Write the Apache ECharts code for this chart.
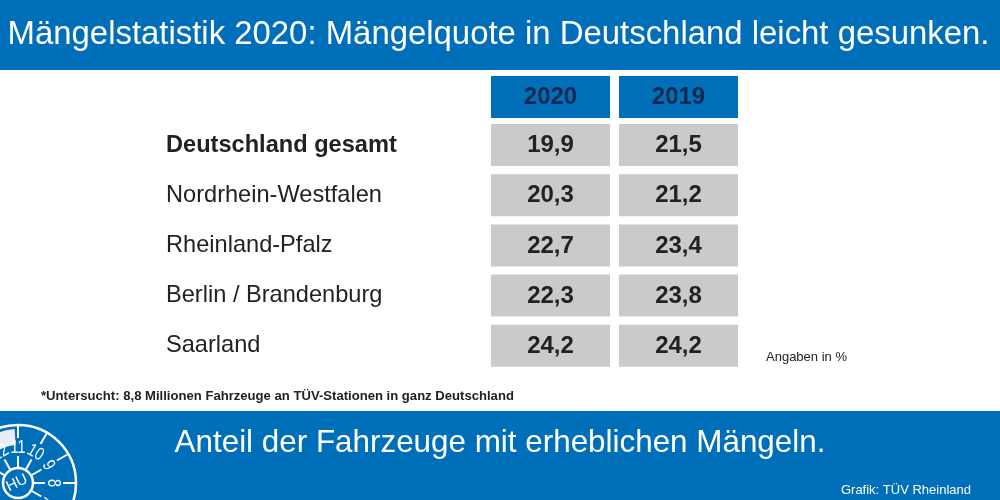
<!DOCTYPE html>
<html>
<head>
<meta charset="utf-8">
<style>
  html, body { margin: 0; padding: 0; background: #fff; }
  #chart { width: 1000px; height: 500px; }
</style>
<script src="https://cdn.jsdelivr.net/npm/echarts@6/dist/echarts.min.js"></script>
</head>
<body>
<div id="chart"></div>
<script>
var years = ['2020', '2019'];
var regions = ['Deutschland gesamt', 'Nordrhein-Westfalen', 'Rheinland-Pfalz', 'Berlin / Brandenburg', 'Saarland'];
var values2020 = [19.9, 20.3, 22.7, 22.3, 24.2];
var values2019 = [21.5, 21.2, 23.4, 23.8, 24.2];

var blue = '#006fb9';
var font = '"Liberation Sans", Arial, sans-serif';

// Kopfzeile + Regionen, Kategorie-Achse laeuft von oben nach unten
var rows = [''].concat(regions);

var cells = [];
years.forEach(function (y, c) {
  cells.push([c, 0, y]);
});
regions.forEach(function (r, i) {
  cells.push([0, i + 1, values2020[i].toFixed(1).replace('.', ',')]);
  cells.push([1, i + 1, values2019[i].toFixed(1).replace('.', ',')]);
});

function renderCell(params, api) {
  var p = api.coord([api.value(0), api.value(1)]);
  var s = api.size([1, 1]);
  var isHead = api.value(1) === 0;
  var w = s[0] - 9, h = 42;
  // Kopfzeile sitzt etwas naeher an der ersten Zeile
  var cy = isHead ? p[1] + 2.2 : p[1];
  return {
    type: 'group',
    children: [{
      type: 'rect',
      shape: { x: p[0] - w / 2, y: cy - h / 2, width: w, height: h },
      style: { fill: isHead ? blue : '#cacaca' }
    }, {
      type: 'text',
      style: {
        x: p[0], y: cy + 0.5,
        text: cells[params.dataIndex][2],
        align: 'center', verticalAlign: 'middle',
        font: 'bold 24px ' + font,
        fill: isHead ? '#14284f' : '#222222'
      }
    }]
  };
}

// HU-Plakette unten links, Monate wie auf dem Zifferblatt alle 30 Grad
var badgeX = 18, badgeY = 483;
var badge = [
  { type: 'circle', shape: { cx: badgeX, cy: badgeY, r: 58 }, style: { fill: 'none', stroke: '#fff', lineWidth: 2.5 } },
  { type: 'sector', shape: { cx: badgeX, cy: badgeY, r: 54, r0: 38, startAngle: -Math.PI * 0.95, endAngle: -Math.PI * 0.52 }, style: { fill: '#e8eef4' } },
  { type: 'circle', shape: { cx: badgeX, cy: badgeY, r: 15 }, style: { fill: 'none', stroke: '#fff', lineWidth: 2.5 } }
];
['8', '9', '10', '11', '12', '1', '7'].forEach(function (m, i) {
  var a = (i < 6 ? -i : 1) * Math.PI / 6;
  var c = Math.cos(a), sn = Math.sin(a);
  badge.push({
    type: 'line',
    shape: { x1: badgeX + 16 * c, y1: badgeY + 16 * sn, x2: badgeX + 27 * c, y2: badgeY + 27 * sn },
    style: { stroke: '#fff', lineWidth: 2 }
  });
  badge.push({
    type: 'line',
    shape: { x1: badgeX + 45 * c, y1: badgeY + 45 * sn, x2: badgeX + 57 * c, y2: badgeY + 57 * sn },
    style: { stroke: '#fff', lineWidth: 2 }
  });
  badge.push({
    type: 'text',
    x: badgeX + 35 * c, y: badgeY + 35 * sn,
    rotation: -(a + Math.PI / 2), scaleX: 0.8,
    style: { text: m, align: 'center', verticalAlign: 'middle', font: '18px ' + font, fill: '#fff' }
  });
});
badge.push({
  type: 'text', x: badgeX - 1, y: badgeY, rotation: 0.45,
  style: { text: 'HU', align: 'center', verticalAlign: 'middle', font: '15px ' + font, fill: '#fff' }
});

var chart = echarts.init(document.getElementById('chart'), null, { renderer: 'canvas' });
chart.setOption({
  animation: false,
  backgroundColor: '#fff',
  grid: { left: 486.5, top: 69.7, width: 256, height: 301.2 },
  xAxis: {
    type: 'category', data: years,
    axisLine: { show: false }, axisTick: { show: false }, axisLabel: { show: false }, splitLine: { show: false }
  },
  yAxis: {
    type: 'category', data: rows, inverse: true,
    axisLine: { show: false }, axisTick: { show: false }, splitLine: { show: false },
    axisLabel: {
      margin: 320.5, align: 'left', fontFamily: font, fontSize: 23.6, color: '#222222',
      formatter: function (v, i) {
        return i === 1 ? '{b|' + v + '}' : v;
      },
      rich: { b: { fontFamily: font, fontSize: 23.6, fontWeight: 'bold', color: '#222222' } }
    }
  },
  series: [{
    type: 'custom',
    renderItem: renderCell,
    encode: { x: 0, y: 1 },
    data: cells.map(function (d) { return [d[0], d[1]]; })
  }],
  graphic: [
    { type: 'rect', shape: { x: 0, y: 0, width: 1000, height: 70 }, style: { fill: blue } },
    { type: 'rect', shape: { x: 0, y: 411, width: 1000, height: 89 }, style: { fill: blue } },
    { type: 'text', x: 498.5, y: 34.5, style: { text: 'Mängelstatistik 2020: Mängelquote in Deutschland leicht gesunken.', align: 'center', verticalAlign: 'middle', font: '32.9px ' + font, fill: '#fff' } },
    { type: 'text', x: 500, y: 443, style: { text: 'Anteil der Fahrzeuge mit erheblichen Mängeln.', align: 'center', verticalAlign: 'middle', font: '31.4px ' + font, fill: '#fff' } },
    { type: 'text', x: 971, y: 490, style: { text: 'Grafik: TÜV Rheinland', align: 'right', verticalAlign: 'middle', font: '13px ' + font, fill: '#fff' } },
    { type: 'text', x: 41, y: 396, style: { text: '*Untersucht: 8,8 Millionen Fahrzeuge an TÜV-Stationen in ganz Deutschland', align: 'left', verticalAlign: 'middle', font: 'bold 13.1px ' + font, fill: '#222222' } },
    { type: 'text', x: 766, y: 357, style: { text: 'Angaben in %', align: 'left', verticalAlign: 'middle', font: '13px ' + font, fill: '#222222' } },
    { type: 'group', children: badge }
  ]
});
</script>
</body>
</html>
